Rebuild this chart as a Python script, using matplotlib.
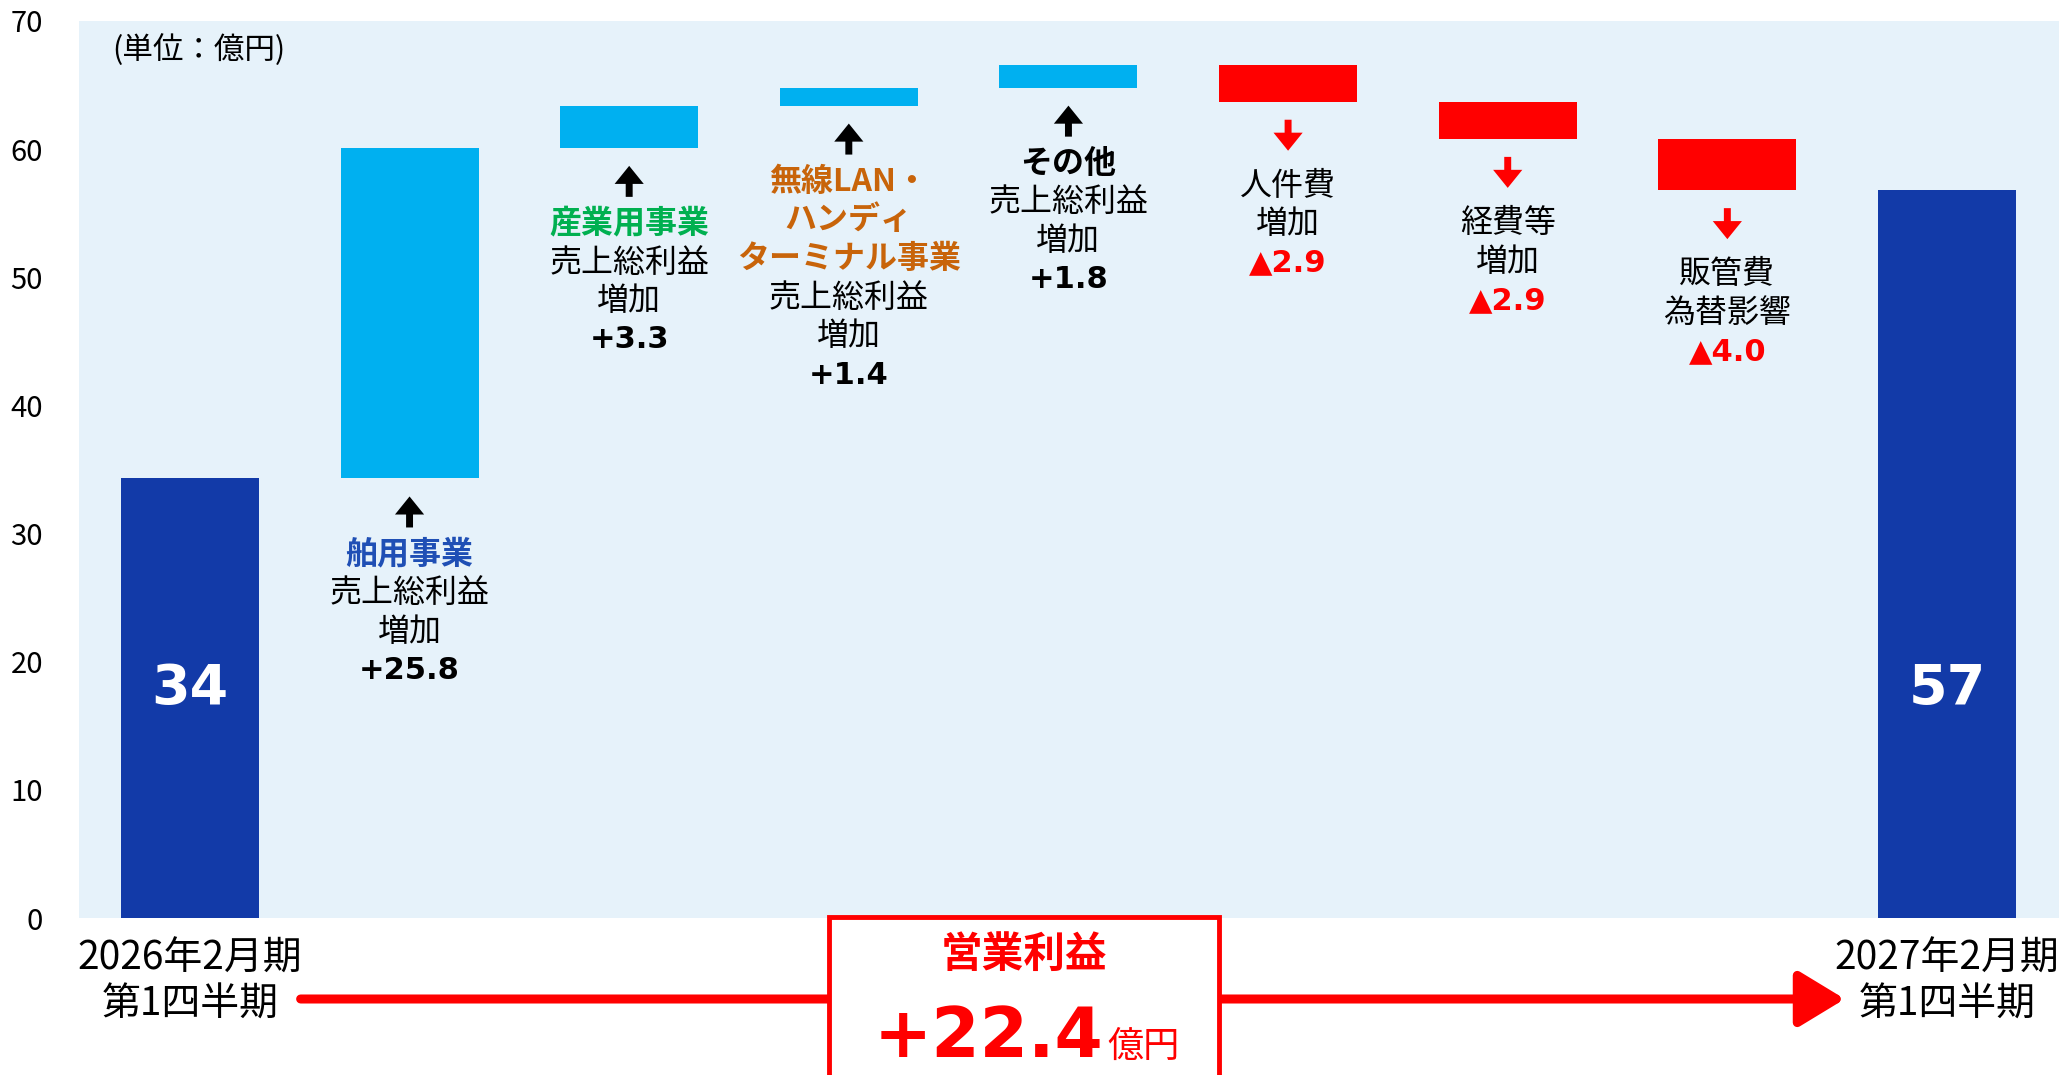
import numpy as np
import matplotlib
matplotlib.use('Agg')
import matplotlib.pyplot as plt
from matplotlib.patches import Rectangle, FancyArrowPatch

plt.rcParams['font.family'] = ['Noto Sans CJK JP', 'DejaVu Sans']

# data
start_value = 34.3
deltas = [25.8, 3.3, 1.4, 1.8, -2.9, -2.9, -4.0]
start_label = '2026年2月期\n第1四半期'
end_label = '2027年2月期\n第1四半期'
start_text = '34'
end_text = '57'
titles = [['舶用事業'], ['産業用事業'], ['無線LAN・', 'ハンディ', 'ターミナル事業'],
          ['その他'], [], [], []]
title_colors = ['#1F4FB5', '#00B050', '#C8640A', 'black', 'black', 'black', 'black']
bodies = [['売上総利益', '増加'], ['売上総利益', '増加'], ['売上総利益', '増加'],
          ['売上総利益', '増加'], ['人件費', '増加'], ['経費等', '増加'], ['販管費', '為替影響']]
value_texts = ['+25.8', '+3.3', '+1.4', '+1.8', '▲2.9', '▲2.9', '▲4.0']
total_title = '営業利益'
total_text = '+22.4'
unit_text = '億円'
unit_note = '(単位：億円)'

dark_blue = '#123AA8'
light_blue = '#00B0F0'
red = '#FF0000'
bg = '#E6F2FA'

cum = start_value + np.cumsum(deltas)
prev = np.concatenate([[start_value], cum[:-1]])
end_value = cum[-1]

W, H = 2059, 1075
fig = plt.figure(figsize=(W / 100, H / 100), dpi=100)
ax = fig.add_axes([79 / W, 157 / H, 1 - 79 / W, 897 / H])
ax.set_facecolor(bg)
for s in ax.spines.values():
    s.set_visible(False)

ymax = 70
ax.set_ylim(0, ymax)
ax.set_xlim(-0.505, 8.51)


def px(v):
    # pixel offset -> data units
    return v * ymax / 897


bw = 0.628
ax.bar(0, start_value, width=bw, color=dark_blue, zorder=2)
ax.bar(8, end_value, width=bw, color=dark_blue, zorder=2)
xs = np.arange(1, 8)
lows = np.minimum(prev, cum)
cols = [light_blue if d > 0 else red for d in deltas]
ax.bar(xs, np.abs(deltas), bottom=lows, width=bw, color=cols, zorder=2)

ax.text(0, 17.9, start_text, color='white', fontsize=40, fontweight='bold',
        family='DejaVu Sans', ha='center', va='center', zorder=3)
ax.text(8, 17.9, end_text, color='white', fontsize=40, fontweight='bold',
        family='DejaVu Sans', ha='center', va='center', zorder=3)

pitch = px(38.7)
for i, d in enumerate(deltas):
    x = i + 1
    a = lows[i]
    acol = 'black' if d > 0 else red
    if d > 0:
        tail, tip = a - px(49), a - px(18)
        y = a - px(76)
    else:
        tail, tip = a - px(18), a - px(49)
        y = a - px(84)
    ax.annotate('', xy=(x, tip), xytext=(x, tail),
                arrowprops=dict(arrowstyle='simple,head_length=13,head_width=21,tail_width=5',
                                mutation_scale=1, lw=0, color=acol,
                                shrinkA=0, shrinkB=0), zorder=3)
    for t in titles[i]:
        ax.text(x, y, t, color=title_colors[i], fontsize=23, fontweight='bold',
                ha='center', va='center', zorder=3)
        y -= pitch
    for t in bodies[i]:
        ax.text(x, y, t, color='black', fontsize=23, ha='center', va='center', zorder=3)
        y -= pitch
    ax.text(x, y, value_texts[i], color='black' if d > 0 else red, fontsize=22,
            fontweight='bold', family=['DejaVu Sans', 'Noto Sans CJK JP'],
            ha='center', va='center', zorder=3)

ax.text(0.0167, 0.9677, unit_note, transform=ax.transAxes, fontsize=22,
        ha='left', va='center')

ax.set_yticks(np.arange(0, 71, 10))
ax.set_xticks([0, 8])
ax.set_xticklabels([start_label, end_label], fontsize=28, linespacing=1.18)
ax.tick_params(axis='y', length=0, labelsize=21, pad=26)
ax.tick_params(axis='x', length=0, pad=15)
for lab in ax.get_yticklabels():
    lab.set_horizontalalignment('right')

# bottom arrow and total box
ay = 0.0707
arr = FancyArrowPatch((0.146, ay), (0.896, ay), transform=fig.transFigure,
                      arrowstyle='-|>,head_length=28,head_width=17', mutation_scale=1,
                      lw=6.5, color=red, shrinkA=0, shrinkB=0, zorder=1)
fig.add_artist(arr)
box = Rectangle((829 / W, -0.02), (1219 - 829) / W, 0.147 + 0.02,
                transform=fig.transFigure, facecolor='white', edgecolor=red,
                lw=3.5, zorder=5)
fig.add_artist(box)
fig.text(0.4975, 0.1116, total_title, color=red, fontsize=30, fontweight='bold',
         ha='center', va='center', zorder=6)
fig.text(0.5357, 0.0167, total_text, color=red, fontsize=50, fontweight='bold',
         family='DejaVu Sans', ha='right', va='baseline', zorder=6)
fig.text(0.5376, 0.0167, unit_text, color=red, fontsize=26,
         ha='left', va='baseline', zorder=6)

fig.savefig('out.png', dpi=100)
